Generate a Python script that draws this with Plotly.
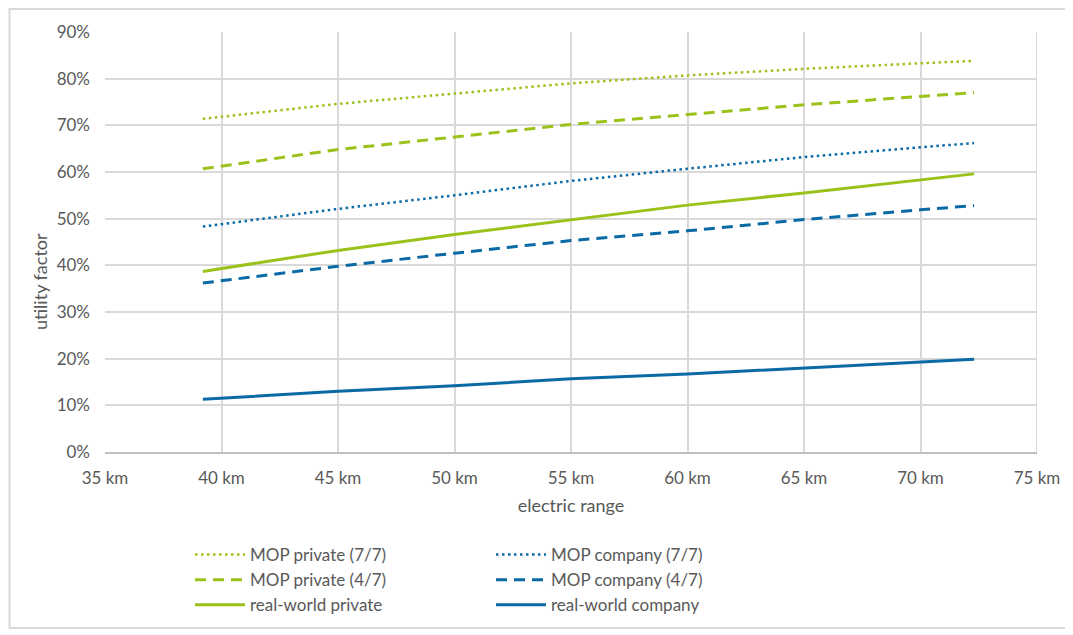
import plotly.graph_objects as go

# -------------------------
# DATA
# -------------------------
electric_range = [39.2, 45, 50, 55, 60, 65, 70, 72.3]

mop_private_77 = [0.714, 0.746, 0.768, 0.790, 0.807, 0.821, 0.833, 0.838]
mop_private_47 = [0.607, 0.648, 0.675, 0.702, 0.723, 0.744, 0.762, 0.770]
real_private = [0.387, 0.432, 0.466, 0.498, 0.529, 0.555, 0.584, 0.596]
mop_company_77 = [0.483, 0.521, 0.550, 0.581, 0.607, 0.632, 0.653, 0.662]
mop_company_47 = [0.362, 0.398, 0.426, 0.453, 0.474, 0.498, 0.519, 0.528]
real_company = [0.113, 0.130, 0.142, 0.157, 0.167, 0.180, 0.192, 0.199]

x_ticks = [35, 40, 45, 50, 55, 60, 65, 70, 75]
x_ticklabels = [f"{v} km" for v in x_ticks]

# -------------------------
# STYLE
# -------------------------
GREEN = "#9ac21b"
BLUE = "#0a6aa6"
GRID = "#d9d9d9"
TXT = "#595959"
FONT = "Lato"

# page size; the html body adds an 8px offset, so margins are shifted by it
W, H = 1073, 635
OFF = 8
L, T = 105 - OFF, 32 - OFF
pw, ph = 932, 420
R, B = W - L - pw, H - T - ph


def px_x(p):
    # screen pixel -> paper x
    return (p - OFF - L) / pw


def px_y(p):
    # screen pixel -> paper y
    return (T + ph - (p - OFF)) / ph


series = [
    ("MOP private (7/7)", mop_private_77, GREEN, "2.5px,3.5px", 2.5, "legend"),
    ("MOP private (4/7)", mop_private_47, GREEN, "11px,7px", 3, "legend"),
    ("real-world private", real_private, GREEN, "solid", 3, "legend"),
    ("MOP company (7/7)", mop_company_77, BLUE, "2.5px,3.5px", 2.5, "legend2"),
    ("MOP company (4/7)", mop_company_47, BLUE, "11px,7px", 3, "legend2"),
    ("real-world company", real_company, BLUE, "solid", 3, "legend2"),
]

fig = go.Figure()
for name, vals, col, dash, lw, leg in series:
    fig.add_trace(go.Scatter(
        x=electric_range, y=vals, name=name, mode="lines",
        line=dict(color=col, width=lw, dash=dash),
        legend=leg,
    ))

legend_style = dict(
    orientation="v", xanchor="left", yanchor="top",
    font=dict(family=FONT, size=17, color=TXT),
    bgcolor="rgba(0,0,0,0)", tracegroupgap=0, itemwidth=50,
)

fig.update_layout(
    width=W, height=H,
    margin=dict(l=L, r=R, t=T, b=B),
    paper_bgcolor="white", plot_bgcolor="white",
    font=dict(family=FONT, size=17, color=TXT),
    legend=dict(x=px_x(190), y=px_y(537), **legend_style),
    legend2=dict(x=px_x(491), y=px_y(537), **legend_style),
    xaxis=dict(
        range=[35, 75], tickvals=x_ticks, ticktext=x_ticklabels,
        showgrid=True, gridcolor=GRID, gridwidth=2,
        showline=True, linecolor="#bfbfbf", linewidth=2, mirror=False,
        zeroline=False, ticks="", ticklabelstandoff=10,
        tickfont=dict(size=17),
        title=dict(text="electric range", standoff=12, font=dict(size=18)),
    ),
    yaxis=dict(
        range=[0, 0.9], dtick=0.1, tickformat=".0%",
        showgrid=True, gridcolor=GRID, gridwidth=2,
        showline=False, zeroline=False, ticks="", ticklabelstandoff=14,
        tickfont=dict(size=17),
    ),
    annotations=[
        # y axis title sits a little below the middle, as in the source chart
        dict(text="utility factor", textangle=-90, showarrow=False,
             xref="paper", yref="paper", x=px_x(40), y=px_y(282),
             xanchor="center", yanchor="middle",
             font=dict(family=FONT, size=18, color=TXT)),
    ],
    shapes=[
        # outer frame of the chart object (kept inside the svg)
        dict(type="rect", xref="paper", yref="paper",
             x0=px_x(9.5), x1=px_x(1066), y0=px_y(628), y1=px_y(9),
             line=dict(color=GRID, width=2), layer="below"),
        # right plot border (gridline at 75 km)
        dict(type="line", xref="x", yref="y", x0=75, x1=75, y0=0, y1=0.9,
             line=dict(color=GRID, width=2), layer="below"),
    ],
)

fig.write_html("out.html")
